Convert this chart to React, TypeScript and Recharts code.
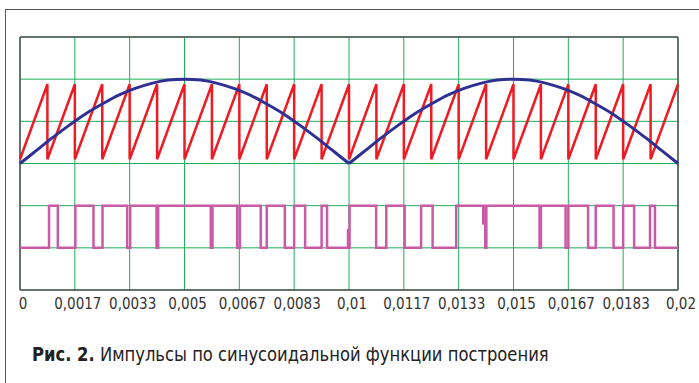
import React from "react";
import { LineChart, Line, XAxis, YAxis, CartesianGrid, ReferenceLine } from "recharts";

const FONT = '"Liberation Sans Narrow", "DejaVu Sans Condensed", Roboto, sans-serif';

const xTicks = [0, 0.0016667, 0.0033333, 0.005, 0.0066667, 0.0083333, 0.01, 0.0116667, 0.0133333, 0.015, 0.0166667, 0.0183333, 0.02];
const xTickLabels = ["0", "0,0017", "0,0033", "0,005", "0,0067", "0,0083", "0,01", "0,0117", "0,0133", "0,015", "0,0167", "0,0183", "0,02"];
const yGrid = [0, 1, 2, 3, 4, 5, 6];

// rectified sine, two half-waves
const sineTimesA = [0, 0.0005, 0.001, 0.0015, 0.002, 0.0025, 0.003, 0.0035, 0.004, 0.0045, 0.005, 0.0055, 0.006, 0.0065, 0.007, 0.0075, 0.008, 0.0085, 0.009, 0.0095, 0.01];
const sineValuesA = [3.0, 3.31, 3.62, 3.91, 4.18, 4.41, 4.62, 4.78, 4.9, 4.98, 5.0, 4.98, 4.9, 4.78, 4.62, 4.41, 4.18, 3.91, 3.62, 3.31, 3.0];
const sineTimesB = [0.01, 0.0105, 0.011, 0.0115, 0.012, 0.0125, 0.013, 0.0135, 0.014, 0.0145, 0.015, 0.0155, 0.016, 0.0165, 0.017, 0.0175, 0.018, 0.0185, 0.019, 0.0195, 0.02];
const sineValuesB = [3.0, 3.31, 3.62, 3.91, 4.18, 4.41, 4.62, 4.78, 4.9, 4.98, 5.0, 4.98, 4.9, 4.78, 4.62, 4.41, 4.18, 3.91, 3.62, 3.31, 3.0];

// sawtooth carrier: tooth tops
const sawPeakTimes = [0.000833, 0.001667, 0.0025, 0.003333, 0.004167, 0.005, 0.005833, 0.006667, 0.0075, 0.008333, 0.009167, 0.01, 0.010833, 0.011667, 0.0125, 0.013333, 0.014167, 0.015, 0.015833, 0.016667, 0.0175, 0.018333, 0.019167, 0.02];
const SAW_LOW = 3.1;
const SAW_HIGH = 4.88;

// PWM pulses (rise / fall times)
const pulseOn = [0.000883, 0.001683, 0.002508, 0.00335, 0.0042, 0.00585, 0.006683, 0.0075, 0.008333, 0.009167, 0.010017, 0.011133, 0.012192, 0.013258, 0.014175, 0.015833, 0.016667, 0.0175, 0.018333, 0.01915];
const pulseOff = [0.00115, 0.002233, 0.003258, 0.00415, 0.0058, 0.0066, 0.007317, 0.00805, 0.008667, 0.009333, 0.010825, 0.011692, 0.012542, 0.014142, 0.015792, 0.016583, 0.017267, 0.018042, 0.018667, 0.0193];
// short glitch marks on the top of some pulses
const glitchTimes = [0.00997, 0.01408];
const glitchDepth = [0.45, 0.45];
const PULSE_LOW = 1;
const PULSE_HIGH = 2;

const sineA = sineTimesA.map((t, i) => ({ t, v: sineValuesA[i] }));
const sineB = sineTimesB.map((t, i) => ({ t, v: sineValuesB[i] }));

const saw: { t: number; v: number }[] = [{ t: 0, v: SAW_LOW }];
sawPeakTimes.forEach((t, i) => {
  saw.push({ t, v: SAW_HIGH });
  if (i < sawPeakTimes.length - 1) saw.push({ t, v: SAW_LOW });
});

const pulses: { t: number; v: number }[] = [{ t: 0, v: PULSE_LOW }];
pulseOn.forEach((on, i) => {
  const off = pulseOff[i];
  pulses.push({ t: on, v: PULSE_LOW }, { t: on, v: PULSE_HIGH }, { t: off, v: PULSE_HIGH }, { t: off, v: PULSE_LOW });
});
pulses.push({ t: 0.02, v: PULSE_LOW });

// glitch 1 rises from the low level, glitch 2 hangs from the high level
const glitch1 = [
  { t: glitchTimes[0], v: PULSE_LOW },
  { t: glitchTimes[0], v: PULSE_LOW + glitchDepth[0] },
];
const glitch2 = [
  { t: glitchTimes[1], v: PULSE_HIGH },
  { t: glitchTimes[1], v: PULSE_HIGH - glitchDepth[1] },
];

const GREEN = "#1fae5a";
const FRAME = "#555555";
const MAGENTA = "#c95aa6";

export default function App() {
  return (
    <div style={{ position: "absolute", left: 0, top: 0, width: 699, height: 383, background: "#fff", overflow: "hidden" }}>
      <div
        style={{
          position: "absolute",
          left: 5,
          top: 9,
          width: 720,
          height: 400,
          borderTop: `1.5px solid ${FRAME}`,
          borderLeft: `1.5px solid ${FRAME}`,
        }}
      />
      <div style={{ position: "absolute", left: 0, top: 0 }}>
        <LineChart width={699} height={383} margin={{ top: 37, right: 21, bottom: 63, left: 20 }}>
          <CartesianGrid stroke={GREEN} strokeWidth={1} />
          <XAxis
            dataKey="t"
            type="number"
            domain={[0, 0.02]}
            ticks={xTicks}
            interval={0}
            allowDuplicatedCategory={false}
            tickFormatter={(v, i) => xTickLabels[i]}
            tickLine={false}
            axisLine={{ stroke: FRAME, strokeWidth: 1.5 }}
            tick={{ fill: "#333", fontSize: 15, fontFamily: FONT, dx: 3 }}
            height={30}
          />
          <YAxis type="number" domain={[0, 6]} ticks={yGrid} hide />
          <ReferenceLine y={6} stroke={FRAME} strokeWidth={1.5} />
          <ReferenceLine x={0} stroke={FRAME} strokeWidth={1.5} />
          <ReferenceLine x={0.02} stroke={FRAME} strokeWidth={1.5} />
          <Line data={saw} dataKey="v" type="linear" stroke="#ed1c24" strokeWidth={2.5} dot={false} isAnimationActive={false} />
          <Line data={sineA} dataKey="v" type="monotone" stroke="#2e3192" strokeWidth={3} dot={false} isAnimationActive={false} />
          <Line data={sineB} dataKey="v" type="monotone" stroke="#2e3192" strokeWidth={3} dot={false} isAnimationActive={false} />
          <Line data={pulses} dataKey="v" type="linear" stroke={MAGENTA} strokeWidth={2.5} dot={false} isAnimationActive={false} />
          <Line data={glitch1} dataKey="v" type="linear" stroke={MAGENTA} strokeWidth={2.5} dot={false} isAnimationActive={false} />
          <Line data={glitch2} dataKey="v" type="linear" stroke={MAGENTA} strokeWidth={2.5} dot={false} isAnimationActive={false} />
        </LineChart>
      </div>
      <div
        style={{
          position: "absolute",
          left: 32,
          top: 342,
          fontFamily: FONT,
          fontSize: 20,
          color: "#222",
          whiteSpace: "nowrap",
          transform: "scaleX(0.91)",
          transformOrigin: "left top",
        }}
      >
        <b style={{ fontWeight: 900 }}>Рис. 2.</b> Импульсы по синусоидальной функции построения
      </div>
    </div>
  );
}
